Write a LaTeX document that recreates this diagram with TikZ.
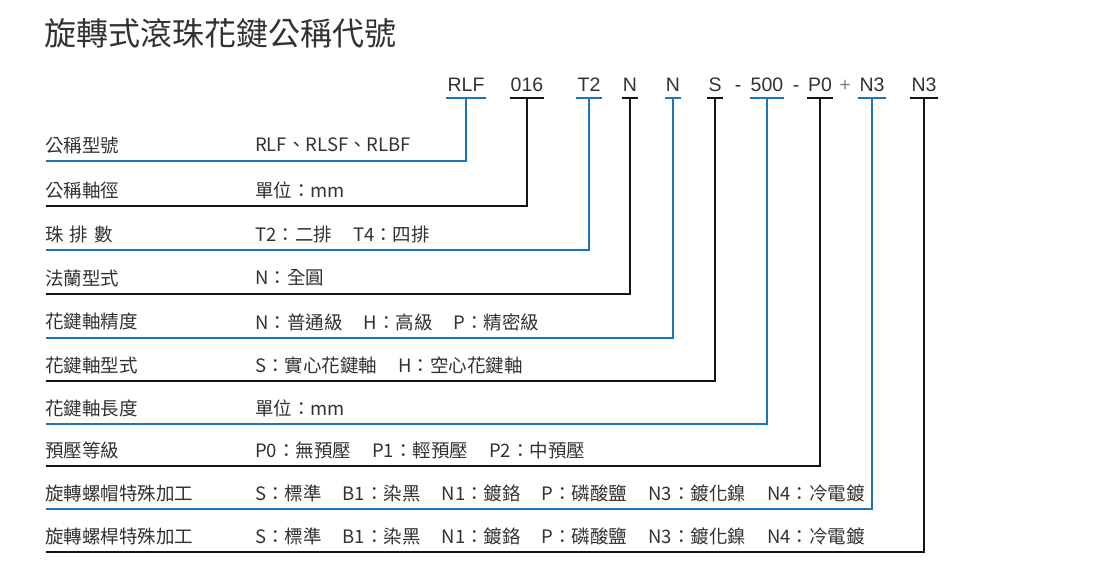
\documentclass[tikz,border=0pt]{standalone}
\usepackage{fontspec}
\setmainfont{Liberation Sans}
\newfontfamily\cjk{Noto Sans CJK TC}
\usetikzlibrary{calc}
\definecolor{lblue}{RGB}{28,117,188}
\definecolor{lblack}{RGB}{20,20,20}
\definecolor{tgray}{RGB}{50,50,50}
\newcommand{\gap}{\hspace{21pt}}
\begin{document}
\begin{tikzpicture}[x=1pt,y=-1pt,
 codetxt/.style={font=\fontsize{19.5}{20}\selectfont, text=tgray, inner sep=0pt, text height=14pt, text depth=0pt, anchor=center},
 rowtxt/.style={font=\cjk\fontsize{18.5}{20}\selectfont, text=tgray, inner sep=0pt, anchor=west},
 titletxt/.style={font=\cjk\fontsize{32}{34}\selectfont, text=tgray, inner sep=0pt, anchor=west},
 bl/.style={draw=lblue, line width=2.5pt, line join=miter},
 bk/.style={draw=lblack, line width=2.5pt, line join=miter},
]
\useasboundingbox[fill=white] (0,0) rectangle (1102,576);

\node[titletxt] (title) at (44,33) {旋轉式滾珠花鍵公稱代號};

% code letters
\node[codetxt] (c1) at (466,84) {RLF};
\node[codetxt] (c2) at (527,84) {016};
\node[codetxt] (c3) at (589,84) {T2};
\node[codetxt] (c4) at (630,84) {N};
\node[codetxt] (c5) at (673,84) {N};
\node[codetxt] (c6) at (715,84) {S};
\node[codetxt] (d1) at (738,84) {-};
\node[codetxt] (c7) at (767,84) {500};
\node[codetxt] (d2) at (796,84) {-};
\node[codetxt] (c8) at (820,84) {P0};
\node[codetxt, text=gray] (pl) at (845,84) {+};
\node[codetxt] (c9) at (872,84) {N3};
\node[codetxt] (c10) at (924,84) {N3};

% row end coordinates
\coordinate (e1) at (46,161);
\coordinate (e2) at (46,206);
\coordinate (e3) at (46,250);
\coordinate (e4) at (46,294);
\coordinate (e5) at (46,338);
\coordinate (e6) at (46,381);
\coordinate (e7) at (46,424);
\coordinate (e8) at (46,466);
\coordinate (e9) at (46,509);
\coordinate (e10) at (46,552);

% row labels
\node[rowtxt] (r1) at (45,145) {公稱型號};
\node[rowtxt] (r2) at (45,190) {公稱軸徑};
\node[rowtxt] (r3) at (45,234) {珠\hspace{6pt}排\hspace{6pt}數};
\node[rowtxt] (r4) at (45,278) {法蘭型式};
\node[rowtxt] (r5) at (45,322) {花鍵軸精度};
\node[rowtxt] (r6) at (45,365) {花鍵軸型式};
\node[rowtxt] (r7) at (45,408) {花鍵軸長度};
\node[rowtxt] (r8) at (45,450) {預壓等級};
\node[rowtxt] (r9) at (45,493) {旋轉螺帽特殊加工};
\node[rowtxt] (r10) at (45,536) {旋轉螺桿特殊加工};

% values
\node[rowtxt] (v1) at (255,145) {RLF、RLSF、RLBF};
\node[rowtxt] (v2) at (255,190) {單位：mm};
\node[rowtxt] (v3) at (255,234) {T2：二排\gap T4：四排};
\node[rowtxt] (v4) at (255,278) {N：全圓};
\node[rowtxt] (v5) at (255,322) {N：普通級\gap H：高級\gap P：精密級};
\node[rowtxt] (v6) at (255,365) {S：實心花鍵軸\gap H：空心花鍵軸};
\node[rowtxt] (v7) at (255,408) {單位：mm};
\node[rowtxt] (v8) at (255,450) {P0：無預壓\gap P1：輕預壓\gap P2：中預壓};
\node[rowtxt] (v9) at (255,493) {S：標準\gap B1：染黑\gap N1：鍍鉻\gap P：磷酸鹽\gap N3：鍍化鎳\gap N4：冷電鍍};
\node[rowtxt] (v10) at (255,536) {S：標準\gap B1：染黑\gap N1：鍍鉻\gap P：磷酸鹽\gap N3：鍍化鎳\gap N4：冷電鍍};

% connectors
\foreach \i/\s in {1/bl,2/bk,3/bl,4/bk,5/bl,6/bk,7/bl,8/bk,9/bl,10/bk}{
  \draw[\s] ($(c\i.west)+(-1,14)$) -- ($(c\i.east)+(1,14)$);
  \draw[\s] ($(c\i)+(0,14)$) |- (e\i);
}
\end{tikzpicture}
\end{document}
